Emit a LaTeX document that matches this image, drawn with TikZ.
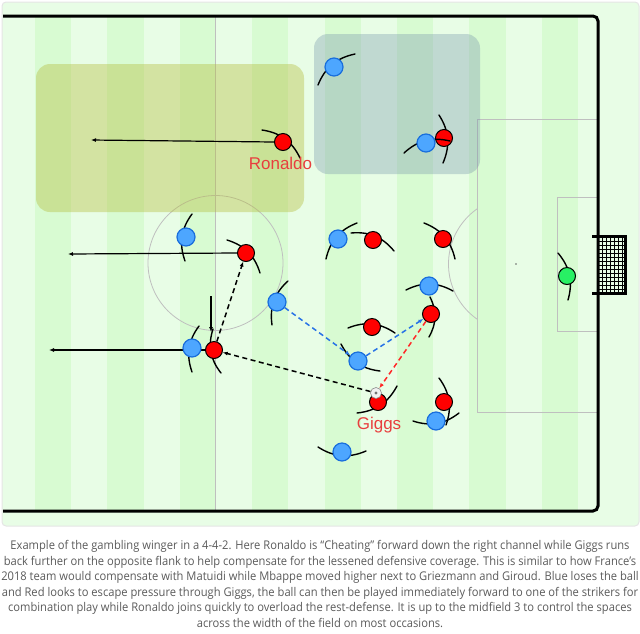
\documentclass[tikz,border=0pt]{standalone}
\usepackage{fontspec}
\newfontfamily\namefont{Liberation Sans}
\newfontfamily\captionfont[FakeStretch=0.93]{Open Sans}
\usetikzlibrary{arrows.meta}

\definecolor{cardgreen}{RGB}{232,253,230}
\definecolor{stripegreen}{RGB}{216,251,210}
\definecolor{redteam}{RGB}{255,0,0}
\definecolor{blueteam}{RGB}{77,166,255}
\definecolor{blueedge}{RGB}{25,110,220}
\definecolor{keepergreen}{RGB}{40,240,100}
\definecolor{namered}{RGB}{232,62,62}
\definecolor{oliveshade}{RGB}{180,190,60}
\definecolor{slateshade}{RGB}{120,150,170}
\definecolor{captiongray}{RGB}{90,90,90}
\definecolor{bluepass}{RGB}{40,115,230}
\definecolor{redpass}{RGB}{255,40,40}

\begin{document}
\begin{tikzpicture}[x = 1pt, y = -1pt, > = {Latex[length = 5pt, width = 4pt]},
	pitchline/.style = {black!25, line width = 0.8pt},
	armline/.style = {line width = 1.4pt, line cap = round},
	redplayer/.style = {circle, draw = black, fill = redteam, line width = 1pt, minimum size = 17pt, inner sep = 0pt},
	blueplayer/.style = {circle, draw = blueedge, fill = blueteam, line width = 1.2pt, minimum size = 18pt, inner sep = 0pt},
	keeper/.style = {circle, draw = black, fill = keepergreen, line width = 1pt, minimum size = 17pt, inner sep = 0pt},
	runline/.style = {->, line width = 1.2pt},
	passline/.style = {->, line width = 1.5pt, dash pattern = on 5pt off 3.5pt},
	playername/.style = {anchor = base, text = namered, font = \namefont\fontsize{17}{17}\selectfont, inner sep = 0pt}]

	\useasboundingbox (0, 0) rectangle (640, 633);

	% Card

	\filldraw [fill = cardgreen, draw = black!10, line width = 1pt, rounded corners = 4pt] (2, 2) rectangle (639, 526);

	% Stripes

	\foreach \i in {0, ..., 7}
		\fill [stripegreen] ({35 + 72.4 * \i}, 16) rectangle ++(36.2, 495);

	% Pitch markings

	\draw [pitchline] (215.5, 16) -- (215.5, 511);
	\draw [pitchline] (215.5, 263) circle [radius = 67.5pt];
	\draw [pitchline] (598, 119) -| (477, 412) -- (598, 412);
	\draw [pitchline] (598, 197) -| (557, 331) -- (598, 331);
	\fill [black!60] (516, 264) circle [radius = 0.9pt];
	\begin{scope}
		\clip (440, 150) rectangle (477, 380);
		\draw [pitchline] (516, 264) circle [radius = 67.5pt];
	\end{scope}

	% Goal

	\foreach \gx in {602, 606, ..., 622}
		\draw [line width = 0.4pt] (\gx, 237) -- (\gx, 292);
	\foreach \gy in {241, 245, ..., 289}
		\draw [line width = 0.4pt] (598, \gy) -- (624, \gy);
	\draw [line width = 3pt] (592, 236) -- (625, 236) -- (625, 293) -- (592, 293);

	% Touchlines

	\draw [line width = 3pt, rounded corners = 5pt] (3, 16) -- (598, 16) -- (598, 511) -- (3, 511);

	% Zones

	\fill [oliveshade, fill opacity = 0.4, rounded corners = 14pt] (36, 64) rectangle (304, 212);
	\fill [slateshade, fill opacity = 0.35, rounded corners = 14pt] (314, 34) rectangle (480, 174);

	% Red players

	\draw [armline] (262, 130) to [bend left = 28] (300, 158);
	\node [redplayer] (ronaldo) at (283, 142) {};
	\draw [armline] (227, 240) to [bend left = 28] (260, 273);
	\node [redplayer] (redmid) at (246, 253) {};
	\draw [armline] (213, 329) to [bend right = 28] (221, 373);
	\node [redplayer] (redwide) at (214, 350) {};
	\draw [armline] (351, 233) to [bend left = 28] (394, 251);
	\node [redplayer] (redcm) at (373, 240) {};
	\draw [armline] (424, 223) to [bend left = 28] (455, 259);
	\node [redplayer] (redam) at (443, 239) {};
	\draw [armline] (430, 297) to [bend left = 28] (429, 337);
	\node [redplayer] (redfw) at (431, 314) {};
	\draw [armline] (348, 328) to [bend left = 28] (395, 333);
	\node [redplayer] (redhold) at (372, 327) {};
	\draw [armline] (357, 413) to [bend right = 28] (397, 386);
	\node [redplayer] (giggs) at (378, 402) {};
	\draw [armline] (439, 378) to [bend left = 28] (446, 425);
	\node [redplayer] (redlow) at (444, 402) {};
	\draw [armline] (439, 115) to [bend left = 28] (443, 163);
	\node [redplayer] (redst) at (444, 138) {};

	% Runs

	\coordinate (ronaldoend) at (91, 140);
	\coordinate (redmidend) at (68, 254);
	\coordinate (redwideend) at (49, 350);
	\coordinate (dropstart) at (211, 296);
	\coordinate (dropend) at (211, 332);
	\draw [runline] (ronaldo.west) -- (ronaldoend);
	\draw [runline] (redmid.west) -- (redmidend);
	\draw [runline] (redwide.west) -- (redwideend);
	\draw [runline] (dropstart) -- (dropend);

	% Blue players

	\draw [armline] (318, 85) to [bend left = 28] (355, 54);
	\node [blueplayer] (bluehigh) at (334, 67) {};
	\draw [armline] (404, 153) to [bend left = 28] (450, 141);
	\node [blueplayer] (bluemark) at (426, 143) {};
	\draw [armline] (192, 214) to [bend right = 28] (185, 261);
	\node [blueplayer] (bluedeep) at (186, 237) {};
	\draw [armline] (326, 259) to [bend left = 28] (357, 223);
	\node [blueplayer] (bluecm) at (338, 239) {};
	\draw [armline] (406, 290) to [bend left = 28] (453, 291);
	\node [blueplayer] (bluecb) at (429, 286) {};
	\draw [armline] (288, 281) to [bend right = 28] (272, 325);
	\node [blueplayer] (bluepress) at (277, 302) {};
	\draw [armline] (199, 326) to [bend right = 28] (192, 372);
	\node [blueplayer] (bluewide) at (192, 348) {};
	\draw [armline] (341, 344) to [bend right = 28] (380, 371);
	\node [blueplayer] (bluedm) at (358, 361) {};
	\draw [armline] (413, 421) to [bend right = 28] (459, 413);
	\node [blueplayer] (blueback) at (436, 421) {};
	\draw [armline] (318, 447) to [bend right = 28] (366, 451);
	\node [blueplayer] (bluelow) at (342, 452) {};

	% Keeper

	\draw [armline] (558, 253) to [bend left = 28] (568, 300);
	\node [keeper] (keeper) at (567, 276) {};

	% Ball

	\node [circle, draw = black!45, fill = black!6, line width = 0.6pt, minimum size = 11pt, inner sep = 0pt] (ball) at (376, 393) {};
	\fill [black!55] (ball) circle [radius = 1.6pt];

	% Passes

	\draw [passline] (redwide) -- (redmid);
	\draw [passline] (ball) -- (redwide);
	\draw [passline, bluepass] (bluepress) -- (bluedm);
	\draw [passline, bluepass] (bluedm) -- (redfw);
	\draw [passline, redpass] (redfw) -- (ball);

	% Names

	\node [playername] (ronaldoname) at (280.5, 169.5) {Ronaldo};
	\node [playername] (giggsname) at (379, 429.5) {Giggs};

	% Caption

	\node [anchor = north, align = center, inner sep = 0pt, text = captiongray, font = \captionfont\fontsize{12}{15.5}\selectfont] (caption) at (320, 540.5) {Example of the gambling winger in a 4-4-2. Here Ronaldo is “Cheating” forward down the right channel while Giggs runs\\
	back further on the opposite flank to help compensate for the lessened defensive coverage. This is similar to how France’s\\
	2018 team would compensate with Matuidi while Mbappe moved higher next to Griezmann and Giroud. Blue loses the ball\\
	and Red looks to escape pressure through Giggs, the ball can then be played immediately forward to one of the strikers for\\
	combination play while Ronaldo joins quickly to overload the rest-defense. It is up to the midfield 3 to control the spaces\\
	across the width of the field on most occasions.};

\end{tikzpicture}
\end{document}
